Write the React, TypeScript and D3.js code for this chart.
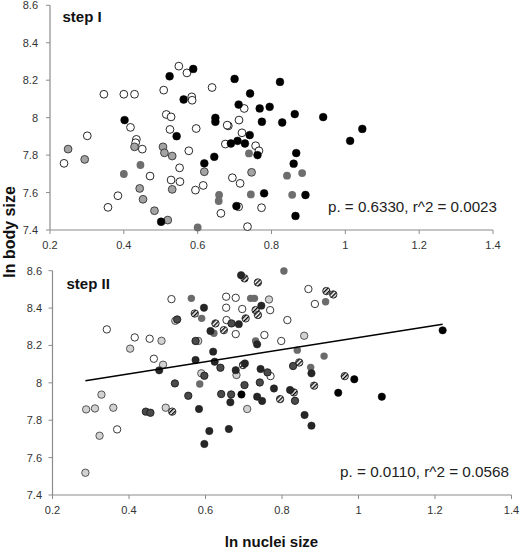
import React from "react";
import * as d3 from "d3";

// ---------- tick labels ----------
const xTicks = [0.2, 0.4, 0.6, 0.8, 1, 1.2, 1.4];
const yTicks = [7.4, 7.6, 7.8, 8, 8.2, 8.4, 8.6];

// ---------- step I data [ln nuclei size, ln body size] ----------
const step1Open: [number, number][] = [
  [0.549, 8.275], [0.571, 8.239], [0.639, 8.161], [0.346, 8.125], [0.4, 8.125], [0.429, 8.125],
  [0.508, 8.147], [0.584, 8.111], [0.585, 8.093], [0.726, 8.049], [0.515, 8.017], [0.528, 8.004],
  [0.712, 7.987], [0.418, 7.948], [0.596, 7.942], [0.525, 7.937], [0.683, 7.956], [0.68, 7.96],
  [0.301, 7.903], [0.434, 7.884], [0.432, 7.866], [0.72, 7.919], [0.675, 7.859], [0.757, 7.85],
  [0.766, 7.823], [0.238, 7.756], [0.45, 7.832], [0.576, 7.823], [0.551, 7.732], [0.471, 7.688],
  [0.528, 7.667], [0.552, 7.658], [0.615, 7.638], [0.594, 7.613], [0.694, 7.679], [0.715, 7.649],
  [0.384, 7.583], [0.357, 7.521], [0.711, 7.524], [0.663, 7.489], [0.735, 7.418], [0.773, 7.519],
];
const step1Black: [number, number][] = [
  [0.588, 8.26], [0.524, 8.221], [0.7, 8.207], [0.562, 8.097], [0.742, 8.129], [0.711, 8.07],
  [0.768, 8.049], [0.402, 7.987], [0.648, 7.999], [0.648, 7.978], [0.543, 7.901], [0.741, 7.907],
  [0.69, 7.862], [0.708, 7.876], [0.728, 7.862], [0.645, 7.791], [0.618, 7.756], [0.501, 7.444],
  [0.705, 7.528], [0.823, 8.191], [0.795, 8.058], [0.863, 8.019], [0.94, 8.003], [0.774, 7.978],
  [0.829, 7.974], [1.046, 7.94], [1.013, 7.876], [0.762, 7.8], [0.867, 7.811], [0.86, 7.754],
  [0.78, 7.596], [0.892, 7.587], [0.865, 7.475],
];
const step1Gray: [number, number][] = [
  [0.249, 7.832], [0.294, 7.777], [0.429, 7.844], [0.506, 7.844], [0.51, 7.812], [0.531, 7.795],
  [0.618, 7.711], [0.746, 7.708], [0.443, 7.622], [0.452, 7.564], [0.531, 7.617], [0.483, 7.503],
  [0.519, 7.453],
];
const step1DarkGray: [number, number][] = [
  [0.4, 7.699], [0.445, 7.747], [0.739, 7.809], [0.658, 7.587], [0.657, 7.555], [0.744, 7.59],
  [0.6, 7.414], [0.842, 7.69], [0.883, 7.704], [0.856, 7.588],
];

// ---------- step II data ----------
const step2Open: [number, number][] = [
  [0.342, 8.286], [0.415, 8.243], [0.454, 8.236], [0.465, 8.129], [0.369, 7.751], [0.511, 8.448],
  [0.654, 8.461], [0.679, 8.455], [0.654, 8.402], [0.696, 8.395], [0.655, 8.336], [0.679, 8.261],
  [0.869, 8.502], [0.886, 8.422], [0.769, 8.389], [0.814, 8.336], [0.754, 8.256], [0.798, 8.224],
  [0.77, 8.036],
];
const step2Hatched: [number, number][] = [
  [0.513, 7.846], [0.702, 8.559], [0.572, 8.371], [0.626, 8.318], [0.648, 8.282], [0.698, 8.095],
  [0.737, 8.537], [0.731, 8.389], [0.737, 8.363], [0.705, 8.345], [0.845, 8.109], [0.884, 7.985],
  [0.831, 7.949], [0.795, 7.913], [0.916, 8.491], [0.934, 8.473], [0.964, 8.036],
];
const step2LightGray: [number, number][] = [
  [0.485, 8.225], [0.403, 8.183], [0.489, 8.097], [0.328, 7.937], [0.288, 7.858], [0.311, 7.863],
  [0.359, 7.867], [0.496, 7.867], [0.323, 7.717], [0.286, 7.519], [0.521, 8.332], [0.581, 8.224],
  [0.589, 8.051], [0.681, 8.042], [0.709, 7.86], [0.766, 8.446], [0.858, 8.252],
];
const step2MidGray: [number, number][] = [
  [0.563, 8.452], [0.59, 8.345], [0.622, 8.265], [0.585, 7.994], [0.805, 8.598], [0.718, 8.452],
  [0.728, 8.452], [0.731, 8.224], [0.84, 8.175], [0.875, 8.083], [0.914, 8.434], [0.91, 8.143],
];
const step2DarkGray: [number, number][] = [
  [0.444, 7.846], [0.456, 7.84], [0.526, 8.339], [0.668, 8.318], [0.574, 8.224], [0.639, 8.081],
  [0.597, 8.038], [0.52, 7.997], [0.555, 7.931], [0.641, 7.94], [0.667, 7.938], [0.762, 8.056],
  [0.829, 8.09], [0.702, 7.988], [0.742, 8.002], [0.834, 7.904],
];
const step2NearBlack: [number, number][] = [
  [0.693, 8.576], [0.479, 8.067], [0.596, 8.402], [0.687, 8.314], [0.613, 8.277], [0.62, 8.167],
  [0.574, 8.122], [0.624, 8.113], [0.679, 8.068], [0.665, 7.896], [0.583, 7.86], [0.61, 7.742],
  [0.661, 7.753], [0.597, 7.673], [0.746, 8.413], [0.735, 8.206], [0.703, 8.104], [0.744, 8.074],
  [0.877, 8.051], [0.779, 7.97], [0.821, 7.962], [0.735, 7.926], [0.748, 7.903], [0.859, 7.828],
  [0.877, 7.771],
];
const step2Black: [number, number][] = [
  [0.694, 7.938], [0.989, 8.019], [0.947, 7.947], [1.061, 7.926], [1.22, 8.281],
];

// fitted line of step II
const fitIntercept = 7.919;
const fitSlope = 0.323;
const fitRange = [0.286, 1.22];

const statsText1 = "p. = 0.6330, r^2 = 0.0023";
const statsText2 = "p. = 0.0110, r^2 = 0.0568";

const FONT = "'Liberation Sans', Arial, sans-serif";

type Group = { data: [number, number][]; fill: string; stroke: string; sw: number };

function Panel(props: {
  xr: [number, number];
  yr: [number, number];
  groups: Group[];
  r: number;
  labelEnd: number;
  title: string;
  titleX: number;
  titleY: number;
  stats: string;
  statsX: number;
  statsY: number;
  fit?: boolean;
}) {
  const x = d3.scaleLinear().domain([0.2, 1.4]).range(props.xr);
  const y = d3.scaleLinear().domain([7.4, 8.6]).range(props.yr);
  const axisColor = "#8c8c8c";
  const line = d3.line<number>().x((v) => x(v)).y((v) => y(fitIntercept + fitSlope * v));
  return (
    <g>
      <line x1={x(0.2)} x2={x(0.2)} y1={y(7.4)} y2={y(8.6)} stroke={axisColor} strokeWidth={1.2} />
      <line x1={x(0.2)} x2={x(1.4)} y1={y(7.4)} y2={y(7.4)} stroke={axisColor} strokeWidth={1.2} />
      {yTicks.map((t) => (
        <g key={"y" + t}>
          <line x1={x(0.2) - 4} x2={x(0.2)} y1={y(t)} y2={y(t)} stroke={axisColor} strokeWidth={1} />
          <text x={props.labelEnd} y={y(t) + 4} textAnchor="end" fontSize={11} fill="#333" fontFamily={FONT}>
            {String(t)}
          </text>
        </g>
      ))}
      {xTicks.map((t) => (
        <g key={"x" + t}>
          <line x1={x(t)} x2={x(t)} y1={y(7.4)} y2={y(7.4) + 4} stroke={axisColor} strokeWidth={1} />
          <text x={x(t)} y={y(7.4) + 19} textAnchor="middle" fontSize={11} fill="#333" fontFamily={FONT}>
            {String(t)}
          </text>
        </g>
      ))}
      {props.groups.map((g, gi) =>
        g.data.map((d, i) => (
          <circle
            key={gi + "-" + i}
            cx={x(d[0])}
            cy={y(d[1])}
            r={props.r}
            fill={g.fill}
            stroke={g.stroke}
            strokeWidth={g.sw}
          />
        ))
      )}
      {props.fit && <path d={line(fitRange) || ""} fill="none" stroke="#000" strokeWidth={1.5} />}
      <text x={props.titleX} y={props.titleY} fontSize={15} fontWeight="bold" fill="#111" fontFamily={FONT}>
        {props.title}
      </text>
      <text
        x={props.statsX}
        y={props.statsY}
        fontSize={15.5}
        fill="#222"
        fontFamily={FONT}
        textLength={169}
        lengthAdjust="spacingAndGlyphs"
      >
        {props.stats}
      </text>
    </g>
  );
}

export default function App() {
  const top: Group[] = [
    { data: step1Open, fill: "#fff", stroke: "#111", sw: 0.9 },
    { data: step1Gray, fill: "#a3a3a3", stroke: "#333", sw: 0.9 },
    { data: step1DarkGray, fill: "#6e6e6e", stroke: "none", sw: 0 },
    { data: step1Black, fill: "#000", stroke: "#000", sw: 0.5 },
  ];
  const bottom: Group[] = [
    { data: step2Open, fill: "#fff", stroke: "#222", sw: 0.9 },
    { data: step2LightGray, fill: "#d2d2d2", stroke: "#444", sw: 0.9 },
    { data: step2Hatched, fill: "url(#hatch)", stroke: "#222", sw: 0.9 },
    { data: step2MidGray, fill: "#6b6b6b", stroke: "none", sw: 0 },
    { data: step2DarkGray, fill: "#4a4a4a", stroke: "#111", sw: 0.8 },
    { data: step2NearBlack, fill: "#262626", stroke: "#1a1a1a", sw: 0.5 },
    { data: step2Black, fill: "#000", stroke: "#000", sw: 0.5 },
  ];
  return (
    <svg width={520} height={549} style={{ position: "absolute", left: 0, top: 0, background: "#fff" }}>
      <defs>
        <pattern id="hatch" patternUnits="userSpaceOnUse" width={3} height={3} patternTransform="rotate(45)">
          <rect width={3} height={3} fill="#fff" />
          <rect width={1.4} height={3} fill="#000" />
        </pattern>
      </defs>
      <rect width={520} height={549} fill="#fff" />
      <Panel
        xr={[50, 493]}
        yr={[230, 5.3]}
        groups={top}
        r={3.9}
        labelEnd={38}
        title="step I"
        titleX={62.5}
        titleY={21.5}
        stats={statsText1}
        statsX={328}
        statsY={212}
      />
      <Panel
        xr={[52.5, 511.5]}
        yr={[495, 270.7]}
        groups={bottom}
        r={3.7}
        labelEnd={42}
        title="step II"
        titleX={66.5}
        titleY={289}
        stats={statsText2}
        statsX={340}
        statsY={477}
        fit
      />
      <text
        transform="translate(15,232) rotate(-90)"
        textAnchor="middle"
        fontSize={16}
        fontWeight="bold"
        fill="#111"
        fontFamily={FONT}
      >
        ln body size
      </text>
      <text x={271.5} y={546.5} textAnchor="middle" fontSize={15} fontWeight="bold" fill="#111" fontFamily={FONT}>
        ln nuclei size
      </text>
    </svg>
  );
}
